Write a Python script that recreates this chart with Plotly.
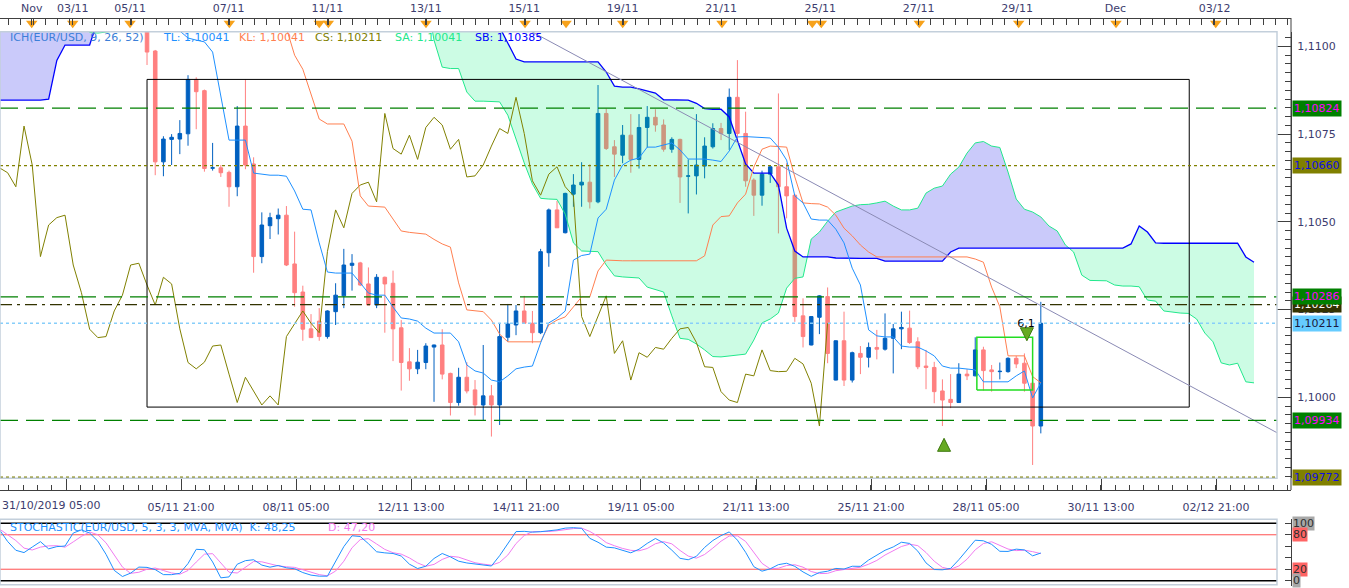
import plotly.graph_objects as go

# ---------------- values (EUR/USD, 4h candles) ----------------
candle_idx = list(range(110))
opens = [
    1.11061, 1.10987, 1.10671, 1.10735, 1.10736, 1.10751, 1.10906, 1.10874, 1.10653, 1.10654,
    1.10641, 1.10600, 1.10773, 1.10665, 1.10401, 1.10489, 1.10509, 1.10519, 1.10380, 1.10300,
    1.10195, 1.10217, 1.10173, 1.10244, 1.10289, 1.10376, 1.10383, 1.10323, 1.10263, 1.10342,
    1.10325, 1.10198, 1.10101, 1.10081, 1.10099, 1.10143, 1.10149, 1.10068, 1.09985, 1.10057,
    1.10021, 1.09978, 1.10004, 1.09978, 1.10171, 1.10206, 1.10246, 1.10211, 1.10184, 1.10412,
    1.10534, 1.10469, 1.10579, 1.10605, 1.10613, 1.10557, 1.10809, 1.10714, 1.10690, 1.10747,
    1.10678, 1.10769, 1.10798, 1.10776, 1.10707, 1.10735, 1.10630, 1.10631, 1.10659, 1.10714,
    1.10766, 1.10752, 1.10855, 1.10752, 1.10619, 1.10576, 1.10636, 1.10657, 1.10600, 1.10576,
    1.10232, 1.10149, 1.10228, 1.10287, 1.10049, 1.10161, 1.10049, 1.10125, 1.10114, 1.10142,
    1.10137, 1.10168, 1.10195, 1.10197, 1.10158, 1.10089, 1.10085, 1.10018, 1.09994, 1.09985,
    1.10066, 1.10061, 1.10135, 1.10078, 1.10073, 1.10073, 1.10111, 1.10097, 1.10040, 1.09918,
]
highs = [
    1.11075, 1.10990, 1.10744, 1.10750, 1.10790, 1.10918, 1.10912, 1.10877, 1.10725, 1.10662,
    1.10646, 1.10830, 1.10906, 1.10684, 1.10527, 1.10526, 1.10538, 1.10545, 1.10472, 1.10318,
    1.10237, 1.10254, 1.10248, 1.10325, 1.10423, 1.10408, 1.10386, 1.10370, 1.10351, 1.10344,
    1.10361, 1.10220, 1.10140, 1.10135, 1.10154, 1.10150, 1.10194, 1.10070, 1.10084, 1.10100,
    1.10049, 1.10149, 1.10035, 1.10211, 1.10266, 1.10263, 1.10289, 1.10246, 1.10423, 1.10538,
    1.10560, 1.10583, 1.10636, 1.10670, 1.10664, 1.10890, 1.10823, 1.10733, 1.10776, 1.10807,
    1.10807, 1.10830, 1.10821, 1.10792, 1.10741, 1.10737, 1.10678, 1.10807, 1.10741, 1.10781,
    1.10782, 1.10880, 1.10961, 1.10814, 1.10624, 1.10646, 1.10662, 1.10866, 1.10667, 1.10578,
    1.10282, 1.10231, 1.10291, 1.10313, 1.10162, 1.10244, 1.10130, 1.10146, 1.10156, 1.10192,
    1.10239, 1.10209, 1.10244, 1.10247, 1.10171, 1.10135, 1.10101, 1.10051, 1.10066, 1.10097,
    1.10080, 1.10171, 1.10144, 1.10092, 1.10099, 1.10114, 1.10118, 1.10125, 1.10059, 1.10272,
]
lows = [
    1.10947, 1.10633, 1.10630, 1.10662, 1.10693, 1.10717, 1.10764, 1.10643, 1.10646, 1.10628,
    1.10543, 1.10573, 1.10650, 1.10355, 1.10382, 1.10451, 1.10464, 1.10374, 1.10258, 1.10161,
    1.10170, 1.10161, 1.10167, 1.10206, 1.10254, 1.10304, 1.10317, 1.10263, 1.10254, 1.10184,
    1.10103, 1.10019, 1.10047, 1.10066, 1.10080, 1.09987, 1.10051, 1.09948, 1.09976, 1.10011,
    1.09948, 1.09935, 1.09888, 1.09921, 1.10158, 1.10177, 1.10209, 1.10154, 1.10180, 1.10372,
    1.10483, 1.10467, 1.10543, 1.10543, 1.10538, 1.10553, 1.10705, 1.10628, 1.10667, 1.10640,
    1.10652, 1.10712, 1.10757, 1.10700, 1.10697, 1.10554, 1.10524, 1.10578, 1.10624, 1.10709,
    1.10733, 1.10705, 1.10728, 1.10600, 1.10517, 1.10546, 1.10611, 1.10467, 1.10510, 1.10215,
    1.10142, 1.10148, 1.10180, 1.10097, 1.10048, 1.10032, 1.10042, 1.10066, 1.10085, 1.10108,
    1.10133, 1.10068, 1.10137, 1.10152, 1.10080, 1.10023, 1.09983, 1.09918, 1.09969, 1.09984,
    1.10049, 1.10060, 1.10019, 1.10016, 1.10051, 1.10070, 1.10083, 1.10016, 1.09807, 1.09897,
]
closes = [
    1.10984, 1.10671, 1.10736, 1.10741, 1.10752, 1.10906, 1.10871, 1.10652, 1.10654, 1.10640,
    1.10600, 1.10773, 1.10662, 1.10401, 1.10491, 1.10512, 1.10519, 1.10377, 1.10298, 1.10194,
    1.10170, 1.10173, 1.10246, 1.10291, 1.10377, 1.10382, 1.10320, 1.10263, 1.10342, 1.10323,
    1.10195, 1.10099, 1.10081, 1.10100, 1.10146, 1.10149, 1.10066, 1.09985, 1.10057, 1.10018,
    1.09978, 1.10004, 1.09978, 1.10173, 1.10209, 1.10246, 1.10211, 1.10184, 1.10415, 1.10534,
    1.10483, 1.10581, 1.10605, 1.10613, 1.10557, 1.10809, 1.10709, 1.10693, 1.10747, 1.10678,
    1.10769, 1.10798, 1.10776, 1.10707, 1.10735, 1.10628, 1.10631, 1.10662, 1.10716, 1.10766,
    1.10752, 1.10855, 1.10752, 1.10617, 1.10576, 1.10636, 1.10657, 1.10600, 1.10574, 1.10230,
    1.10173, 1.10230, 1.10289, 1.10125, 1.10161, 1.10049, 1.10127, 1.10114, 1.10142, 1.10137,
    1.10168, 1.10195, 1.10199, 1.10156, 1.10087, 1.10085, 1.10016, 1.09992, 1.09985, 1.10066,
    1.10061, 1.10135, 1.10076, 1.10073, 1.10074, 1.10111, 1.10095, 1.10040, 1.09918, 1.10211,
]

# Ichimoku (9, 26, 52)
tenkan = [
    1.11075, 1.11061, 1.11052, 1.11046, 1.11044, 1.11024, 1.11018, 1.11013, 1.10984, 1.10861,
    1.10733, 1.10733, 1.10733, 1.10639, 1.10636, 1.10633, 1.10633, 1.10630, 1.10588, 1.10536,
    1.10534, 1.10440, 1.10357, 1.10354, 1.10354, 1.10354, 1.10326, 1.10297, 1.10291, 1.10291,
    1.10257, 1.10226, 1.10223, 1.10217, 1.10197, 1.10183, 1.10183, 1.10183, 1.10158, 1.10092,
    1.10075, 1.10069, 1.10049, 1.10044, 1.10061, 1.10081, 1.10086, 1.10089, 1.10155, 1.10212,
    1.10226, 1.10246, 1.10391, 1.10404, 1.10408, 1.10511, 1.10536, 1.10619, 1.10662, 1.10676,
    1.10682, 1.10713, 1.10713, 1.10720, 1.10725, 1.10705, 1.10679, 1.10679, 1.10679, 1.10676,
    1.10672, 1.10702, 1.10742, 1.10743, 1.10742, 1.10740, 1.10739, 1.10713, 1.10676, 1.10574,
    1.10554, 1.10508, 1.10505, 1.10505, 1.10479, 1.10440, 1.10368, 1.10320, 1.10192, 1.10175,
    1.10172, 1.10172, 1.10146, 1.10143, 1.10143, 1.10132, 1.10118, 1.10089, 1.10083, 1.10083,
    1.10081, 1.10078, 1.10044, 1.10044, 1.10044, 1.10044, 1.10061, 1.10075, 1.09998, 1.10041,
]
kijun = [
    1.11090, 1.11090, 1.11090, 1.11090, 1.11090, 1.11090, 1.11090, 1.11090, 1.11090, 1.11090,
    1.11090, 1.11090, 1.11090, 1.11090, 1.11090, 1.11075, 1.11065, 1.11052, 1.10975, 1.10935,
    1.10861, 1.10793, 1.10779, 1.10779, 1.10779, 1.10730, 1.10574, 1.10545, 1.10543, 1.10542,
    1.10508, 1.10474, 1.10470, 1.10468, 1.10465, 1.10450, 1.10437, 1.10428, 1.10326, 1.10249,
    1.10246, 1.10244, 1.10220, 1.10180, 1.10158, 1.10158, 1.10158, 1.10156, 1.10158, 1.10206,
    1.10220, 1.10229, 1.10257, 1.10286, 1.10286, 1.10360, 1.10391, 1.10389, 1.10389, 1.10389,
    1.10389, 1.10389, 1.10389, 1.10389, 1.10389, 1.10389, 1.10389, 1.10389, 1.10403, 1.10491,
    1.10515, 1.10517, 1.10554, 1.10579, 1.10656, 1.10707, 1.10716, 1.10715, 1.10713, 1.10628,
    1.10554, 1.10552, 1.10551, 1.10542, 1.10519, 1.10482, 1.10460, 1.10434, 1.10414, 1.10400,
    1.10400, 1.10400, 1.10400, 1.10400, 1.10400, 1.10400, 1.10400, 1.10400, 1.10400, 1.10400,
    1.10400, 1.10394, 1.10385, 1.10314, 1.10258, 1.10118, 1.10118, 1.10118, 1.10059, 1.10041,
]
span_idx = list(range(-18, 136))
senkou_a = [
    1.11150, 1.11150, 1.11150, 1.11150, 1.11150, 1.11150, 1.11150, 1.11150, 1.11150, 1.11150,
    1.11150, 1.11040, 1.11038, 1.11041, 1.11044, 1.11075, 1.11150, 1.11150, 1.11150, 1.11150,
    1.11150, 1.11150, 1.11150, 1.11150, 1.11150, 1.11150, 1.11150, 1.11150, 1.11150, 1.11150,
    1.11150, 1.11150, 1.11150, 1.11150, 1.11150, 1.11150, 1.11150, 1.11150, 1.11150, 1.11150,
    1.11150, 1.11150, 1.11150, 1.11150, 1.11150, 1.11150, 1.11150, 1.11150, 1.11150, 1.11150,
    1.11150, 1.11150, 1.11150, 1.11018, 1.10941, 1.10937, 1.10937, 1.10870, 1.10844, 1.10844,
    1.10843, 1.10842, 1.10804, 1.10736, 1.10668, 1.10608, 1.10567, 1.10565, 1.10564, 1.10522,
    1.10440, 1.10417, 1.10415, 1.10415, 1.10377, 1.10346, 1.10343, 1.10341, 1.10340, 1.10314,
    1.10308, 1.10300, 1.10232, 1.10168, 1.10165, 1.10152, 1.10135, 1.10116, 1.10115, 1.10118,
    1.10121, 1.10123, 1.10163, 1.10212, 1.10223, 1.10240, 1.10311, 1.10339, 1.10343, 1.10451,
    1.10471, 1.10502, 1.10528, 1.10536, 1.10545, 1.10549, 1.10550, 1.10554, 1.10559, 1.10545,
    1.10534, 1.10534, 1.10539, 1.10582, 1.10596, 1.10602, 1.10636, 1.10656, 1.10696, 1.10725,
    1.10729, 1.10716, 1.10712, 1.10642, 1.10565, 1.10536, 1.10528, 1.10514, 1.10488, 1.10474,
    1.10434, 1.10414, 1.10348, 1.10333, 1.10333, 1.10332, 1.10320, 1.10317, 1.10317, 1.10315,
    1.10277, 1.10274, 1.10246, 1.10242, 1.10240, 1.10239, 1.10223, 1.10183, 1.10158, 1.10098,
    1.10092, 1.10097, 1.10044, 1.10041,
]
senkou_b = [
    1.10847, 1.10847, 1.10847, 1.10847, 1.10847, 1.10847, 1.10850, 1.10960, 1.11004, 1.11004,
    1.11004, 1.11004, 1.11075, 1.11100, 1.11100, 1.11100, 1.11100, 1.11100, 1.11100, 1.11100,
    1.11100, 1.11100, 1.11100, 1.11100, 1.11100, 1.11100, 1.11100, 1.11100, 1.11100, 1.11100,
    1.11100, 1.11100, 1.11100, 1.11100, 1.11100, 1.11100, 1.11100, 1.11100, 1.11100, 1.11100,
    1.11100, 1.11100, 1.11100, 1.11100, 1.11100, 1.11100, 1.11100, 1.11100, 1.11100, 1.11100,
    1.11100, 1.11100, 1.11100, 1.11100, 1.11100, 1.11100, 1.11100, 1.11100, 1.11100, 1.11100,
    1.11100, 1.11055, 1.11009, 1.10964, 1.10956, 1.10956, 1.10956, 1.10956, 1.10956, 1.10956,
    1.10956, 1.10956, 1.10956, 1.10956, 1.10927, 1.10887, 1.10884, 1.10884, 1.10879, 1.10873,
    1.10867, 1.10848, 1.10847, 1.10847, 1.10847, 1.10838, 1.10823, 1.10821, 1.10821, 1.10799,
    1.10730, 1.10665, 1.10639, 1.10639, 1.10639, 1.10605, 1.10482, 1.10417, 1.10400, 1.10400,
    1.10400, 1.10400, 1.10397, 1.10396, 1.10396, 1.10396, 1.10396, 1.10396, 1.10388, 1.10388,
    1.10388, 1.10388, 1.10388, 1.10388, 1.10388, 1.10388, 1.10414, 1.10425, 1.10425, 1.10425,
    1.10425, 1.10425, 1.10425, 1.10425, 1.10425, 1.10425, 1.10425, 1.10425, 1.10425, 1.10425,
    1.10425, 1.10425, 1.10425, 1.10425, 1.10425, 1.10425, 1.10425, 1.10425, 1.10437, 1.10488,
    1.10471, 1.10440, 1.10439, 1.10439, 1.10439, 1.10439, 1.10439, 1.10439, 1.10439, 1.10439,
    1.10439, 1.10439, 1.10400, 1.10385,
]
chikou_shift = 26

# Stochastic (5, 3, 3)
stoch_idx = list(range(-18, 110))
stoch_k = [
    88.8, 68.3, 53.0, 49.0, 58.6, 68.0, 55.5, 59.4, 60.4, 83.0,
    88.5, 83.0, 68.9, 46.0, 18.0, 7.3, 13.2, 23.7,
    23.2, 19.3, 10.6, 10.5, 12.9, 29.9, 54.7, 53.9, 32.7, 5.0,
    6.6, 28.7, 34.9, 36.5, 27.2, 23.6, 26.5, 22.4, 20.8, 14.2,
    9.7, 7.9, 7.9, 34.5, 59.4, 78.3, 77.0, 64.5, 50.4, 48.5,
    47.4, 43.0, 28.8, 21.2, 25.2, 38.7, 47.4, 41.5, 34.0, 30.9,
    29.1, 26.6, 25.6, 43.6, 65.0, 85.5, 86.0, 84.6, 85.4, 87.0,
    88.5, 91.6, 92.4, 91.2, 73.8, 67.0, 58.5, 57.2, 53.0, 48.6,
    54.8, 65.0, 73.5, 65.8, 53.2, 39.0, 36.5, 42.5, 58.0, 70.0,
    78.5, 85.0, 70.7, 49.5, 24.4, 16.6, 20.7, 28.0, 30.4, 25.0,
    15.3, 7.6, 14.4, 16.5, 21.4, 20.3, 25.2, 25.0, 36.0, 45.0,
    53.0, 58.8, 67.0, 64.9, 51.5, 31.0, 19.5, 19.0, 21.4, 36.5,
    54.5, 70.5, 69.5, 63.3, 51.2, 51.0, 55.0, 53.6, 43.3, 48.25,
]
stoch_d = [
    90.0, 80.0, 70.0, 56.8, 53.5, 58.5, 60.7, 61.0, 58.4, 67.6,
    77.3, 84.8, 80.1, 66.0, 44.3, 23.8, 12.8, 14.7,
    20.0, 22.1, 17.7, 13.5, 11.3, 17.8, 32.5, 46.2, 47.1, 30.5,
    14.8, 13.4, 23.4, 33.4, 32.9, 29.1, 25.8, 24.2, 23.2, 19.1,
    14.9, 10.6, 8.5, 16.8, 33.9, 57.4, 71.6, 73.3, 64.0, 54.5,
    48.8, 46.3, 39.7, 31.0, 25.1, 28.4, 37.1, 42.5, 41.0, 35.5,
    31.3, 28.9, 27.1, 31.9, 44.7, 64.7, 78.8, 85.4, 85.3, 85.7,
    87.0, 89.0, 90.8, 91.7, 85.8, 77.3, 66.4, 60.9, 56.2, 52.9,
    52.1, 56.1, 64.4, 68.1, 64.2, 52.7, 42.9, 39.3, 45.7, 56.8,
    68.8, 77.8, 78.1, 68.4, 48.2, 30.2, 20.6, 21.8, 26.4, 27.8,
    23.6, 16.0, 12.4, 12.8, 17.4, 19.4, 22.3, 23.5, 28.7, 35.3,
    44.7, 52.3, 59.6, 63.6, 61.1, 49.1, 34.0, 23.2, 20.0, 25.6,
    37.5, 53.8, 64.8, 67.8, 61.3, 55.2, 52.4, 53.2, 50.6, 47.2,
]
stoch_levels = [0, 20, 80, 100]

# drawn objects
levels = [1.10824, 1.10660, 1.10286, 1.10264, 1.10211, 1.09934, 1.09772]
level_text = ["1,10824", "1,10660", "1,10286", "1,10264", "1,10211", "1,09934", "1,09772"]
box_x = [0, 127.1]
box_y = [1.09972, 1.10906]
small_box_x = [101.2, 108.0]
small_box_y = [1.10021, 1.10171]
trend_x = [40.0, 137.8]
trend_y = [1.11129, 1.09899]
arrow_up = (97.2, 1.09883)
arrow_down = (107.3, 1.10161)
arrow_label = (107.2, 1.10208, "6,1")

# axes
top_tick_pos = [-14.06, -9.06, -2.07, 9.96, 22.0, 34.0, 46.0, 58.0, 70.0, 82.1, 94.1, 106.1, 118.1, 130.2]
top_tick_text = ["Nov", "03/11", "05/11", "07/11", "11/11", "13/11", "15/11", "19/11",
                 "21/11", "25/11", "27/11", "29/11", "Dec", "03/12"]
event_pos = [-14.06, -9.06, -2.07, 10.04, 21.01, 22.11, 34.02, 46.1, 51.1, 58.01,
             70.12, 81.13, 82.23, 94.18, 106.3, 118.17, 130.33]
bottom_tick_pos = [-9.88, 4.15, 18.17, 32.2, 46.22, 60.24, 74.27, 88.29, 102.32, 116.34, 130.37]
bottom_tick_text = ["", "05/11 21:00", "08/11 05:00", "12/11 13:00", "14/11 21:00", "19/11 05:00",
                    "21/11 13:00", "25/11 21:00", "28/11 05:00", "30/11 13:00", "02/12 21:00"]

# ---------------- styling ----------------
W, H = 1349, 588
M_T, M_B, M_R = 18, 2, 58
PLOT_W = W - M_R
PLOT_H = H - M_T - M_B
FONT = "DejaVu Sans"
AX_TXT = "#3C3C6E"
AX_LINE = "#404040"
FRAME = "#C3CFDB"
UP, DOWN = "#0060C0", "#FF8080"


def py(p):  # pixel row -> paper y
    return 1 - (p - M_T) / PLOT_H


def px(p):  # pixel column -> paper x
    return p / PLOT_W


X_RANGE = [-17.93, 139.51]
Y_RANGE = [1.09769, 1.11042]
MAIN_DOM = [py(478.3), py(31.7)]
STOCH_DOM = [0, py(519.3)]
FRAME_R = px(1277)

fig = go.Figure()

fig.add_trace(go.Candlestick(
    x=candle_idx, open=opens, high=highs, low=lows, close=closes,
    increasing=dict(line=dict(color=UP, width=1), fillcolor=UP),
    decreasing=dict(line=dict(color=DOWN, width=1), fillcolor=DOWN),
    whiskerwidth=0, hoverinfo="skip"))


# cloud between the spans, split where they cross, drawn over the candles
def cloud_parts(xs, a, b):
    parts = []
    cx, ca, cb = [xs[0]], [a[0]], [b[0]]
    sign = a[0] >= b[0]
    for k in range(1, len(xs)):
        s = a[k] >= b[k]
        if s != sign:
            d0, d1 = a[k - 1] - b[k - 1], a[k] - b[k]
            t = d0 / (d0 - d1)
            xc = xs[k - 1] + t * (xs[k] - xs[k - 1])
            yc = a[k - 1] + t * (a[k] - a[k - 1])
            cx.append(xc); ca.append(yc); cb.append(yc)
            parts.append((cx, ca, cb, sign))
            cx, ca, cb = [xc], [yc], [yc]
            sign = s
        cx.append(xs[k]); ca.append(a[k]); cb.append(b[k])
    parts.append((cx, ca, cb, sign))
    return parts


for cx, ca, cb, sa_above in cloud_parts(span_idx, senkou_a, senkou_b):
    fig.add_trace(go.Scatter(
        x=cx + cx[::-1], y=ca + cb[::-1], mode="lines", fill="toself",
        fillcolor="rgba(5,5,232,0.21)" if sa_above else "rgba(0,240,120,0.2)",
        line=dict(width=0), hoverinfo="skip"))

fig.add_trace(go.Scatter(x=span_idx, y=senkou_a, mode="lines",
                         line=dict(color="#22E88C", width=1), hoverinfo="skip"))
fig.add_trace(go.Scatter(x=span_idx, y=senkou_b, mode="lines",
                         line=dict(color="#0000FF", width=1.3), hoverinfo="skip"))
fig.add_trace(go.Scatter(x=[i - chikou_shift for i in candle_idx], y=closes, mode="lines",
                         line=dict(color="#808000", width=1), hoverinfo="skip"))
fig.add_trace(go.Scatter(x=candle_idx, y=kijun, mode="lines",
                         line=dict(color="#FF7F50", width=1), hoverinfo="skip"))
fig.add_trace(go.Scatter(x=candle_idx, y=tenkan, mode="lines",
                         line=dict(color="#1E90FF", width=1), hoverinfo="skip"))

# drawings: box, trend line, small box, arrows
fig.add_trace(go.Scatter(
    x=[box_x[0], box_x[1], box_x[1], box_x[0], box_x[0]],
    y=[box_y[0], box_y[0], box_y[1], box_y[1], box_y[0]],
    mode="lines", line=dict(color="black", width=1), hoverinfo="skip"))
fig.add_trace(go.Scatter(x=trend_x, y=trend_y, mode="lines",
                         line=dict(color="#8A8AB4", width=1), hoverinfo="skip"))
fig.add_trace(go.Scatter(
    x=[small_box_x[0], small_box_x[1], small_box_x[1], small_box_x[0], small_box_x[0]],
    y=[small_box_y[0], small_box_y[0], small_box_y[1], small_box_y[1], small_box_y[0]],
    mode="lines", line=dict(color="#22DD22", width=1.5), hoverinfo="skip"))
fig.add_trace(go.Scatter(
    x=[arrow_up[0], arrow_down[0]], y=[arrow_up[1], arrow_down[1]], mode="markers",
    marker=dict(symbol=["arrow-up", "arrow-down"], size=13, color="#66AA22",
                line=dict(color="#3F7A10", width=1)), hoverinfo="skip"))
fig.add_trace(go.Scatter(
    x=[arrow_label[0]], y=[arrow_label[1]], mode="text", text=[arrow_label[2]],
    textfont=dict(family=FONT, size=11, color="black"), hoverinfo="skip"))

# stochastic
fig.add_trace(go.Scatter(x=stoch_idx, y=stoch_d, mode="lines", xaxis="x3", yaxis="y2",
                         line=dict(color="#F07CF0", width=1), hoverinfo="skip"))
fig.add_trace(go.Scatter(x=stoch_idx, y=stoch_k, mode="lines", xaxis="x3", yaxis="y2",
                         line=dict(color="#1E90FF", width=1), hoverinfo="skip"))

# event markers on the top time scale
fig.add_trace(go.Scatter(
    x=event_pos, y=[0.62] * len(event_pos), mode="markers", xaxis="x2", yaxis="y3",
    marker=dict(symbol="triangle-down", size=10, color="#F7A21B", line=dict(width=0)),
    cliponaxis=False, hoverinfo="skip"))

for tr in fig.data:
    tr.showlegend = False

shapes = []
# horizontal price levels
level_styles = [
    ("#008000", "18px,8px"), ("#808000", "3px,3px"), ("#008000", "18px,8px"),
    ("#333300", "12px,5px,3px,5px"), ("#87CEFA", "3px,3px"), ("#008000", "18px,8px"),
    ("#808000", "3px,3px"),
]
for lv, (col, dash) in zip(levels, level_styles):
    shapes.append(dict(type="line", xref="paper", yref="y", x0=0, x1=FRAME_R, y0=lv, y1=lv,
                       line=dict(color=col, width=1.3, dash=dash)))
# stochastic guide lines
for lv in stoch_levels:
    edge = lv in (0, 100)
    shapes.append(dict(type="line", xref="paper", yref="y2", x0=0, x1=FRAME_R, y0=lv, y1=lv,
                       line=dict(color="black" if edge else "#FF5050", width=1.6 if edge else 1),
                       layer="below"))
# panel frames
shapes.append(dict(type="rect", xref="paper", yref="paper", x0=0, x1=FRAME_R,
                   y0=MAIN_DOM[0], y1=MAIN_DOM[1], line=dict(color=FRAME, width=1.5)))
shapes.append(dict(type="rect", xref="paper", yref="paper", x0=0, x1=FRAME_R,
                   y0=STOCH_DOM[0] + 0.002, y1=STOCH_DOM[1], line=dict(color=FRAME, width=1.5)))
# price scale spine continues down to the time scale
shapes.append(dict(type="line", xref="paper", yref="paper", x0=1, x1=1, y0=py(490), y1=1,
                   line=dict(color=AX_LINE, width=1)))

annotations = []
# colored price boxes on the right scale (same order as levels)
box_styles = [
    ("#008000", "#FF00FF"), ("#808000", "#1010E0"), ("#008000", "#FF00FF"),
    ("#333300", "#FFFFFF"), ("#66CCFF", "#1A1A40"), ("#008000", "#FF00FF"),
    ("#808000", "#1010E0"),
]
for k in [0, 1, 3, 2, 4, 5, 6]:  # 1,10286 is drawn over 1,10264
    bg, fg = box_styles[k]
    annotations.append(dict(
        xref="paper", yref="y", x=1, y=levels[k], xanchor="left", yanchor="middle",
        xshift=1, text=level_text[k], showarrow=False, bgcolor=bg, borderpad=1,
        font=dict(family=FONT, size=11, color=fg)))
# stochastic scale labels
for lv, bg in [(100, "#A8A8A8"), (80, "#FF6464"), (20, "#FF6464"), (0, "#A8A8A8")]:
    annotations.append(dict(
        xref="paper", yref="y2", x=1, y=lv, xanchor="left", yanchor="middle", xshift=1,
        text=str(lv), showarrow=False, bgcolor=bg, borderpad=0,
        font=dict(family=FONT, size=11, color="#303030")))
# indicator captions
captions = [
    (8, 38, "ICH(EUR/USD, 9, 26, 52)", "#3C7FD8"),
    (161, 38, "TL: 1,10041", "#1E90FF"),
    (237, 38, "KL: 1,10041", "#FF7F50"),
    (313, 38, "CS: 1,10211", "#808000"),
    (393, 38, "SA: 1,10041", "#22E88C"),
    (473, 38, "SB: 1,10385", "#0000FF"),
    (8, 527, "STOCHASTIC(EUR/USD, 5, 3, 3, MVA, MVA)  K: 48,25", "#1E90FF"),
    (326, 527, "D: 47,20", "#F07CF0"),
    (0, 505, "31/10/2019 05:00", AX_TXT),
]
for x0, y0, txt, col in captions:
    annotations.append(dict(
        xref="paper", yref="paper", x=px(x0), y=py(y0), xanchor="left", yanchor="middle",
        text=txt, showarrow=False, font=dict(family=FONT, size=11, color=col)))

fig.update_layout(
    width=W, height=H, margin=dict(l=0, r=M_R, t=M_T, b=M_B),
    paper_bgcolor="white", plot_bgcolor="white", separators=", ",
    showlegend=False, boxgap=0.38, hovermode=False,
    font=dict(family=FONT, size=11, color=AX_TXT),
    xaxis=dict(
        domain=[0, 1], range=X_RANGE, anchor="free", position=py(490),
        showline=True, linecolor=AX_LINE, ticks="inside", ticklen=12, tickcolor=AX_LINE,
        tickvals=bottom_tick_pos, ticktext=bottom_tick_text, ticklabelstandoff=7,
        minor=dict(ticks="inside", ticklen=5, tick0=60.24, dtick=1.7525, tickcolor=AX_LINE),
        showgrid=False, zeroline=False, rangeslider=dict(visible=False),
        tickfont=dict(family=FONT, size=11, color=AX_TXT)),
    xaxis2=dict(
        overlaying="x", side="top", anchor="free", position=1, range=X_RANGE,
        showline=True, linecolor=AX_LINE, ticks="inside", ticklen=6, tickcolor=AX_LINE,
        tickvals=top_tick_pos, ticktext=top_tick_text, ticklabelstandoff=2,
        minor=dict(ticks="inside", ticklen=6, tick0=94.1, dtick=1.5, tickcolor=AX_LINE),
        showgrid=False, zeroline=False,
        tickfont=dict(family=FONT, size=11, color=AX_TXT)),
    xaxis3=dict(domain=[0, 1], range=X_RANGE, anchor="y2", visible=False),
    yaxis=dict(
        domain=MAIN_DOM, range=Y_RANGE, side="right", anchor="x",
        showline=True, linecolor=AX_LINE, ticks="inside", ticklen=14, tickcolor=AX_LINE,
        tick0=1.1, dtick=0.0025, tickformat=".4f", ticklabelstandoff=3,
        minor=dict(ticks="inside", ticklen=6, tick0=1.1, dtick=0.00025, tickcolor=AX_LINE),
        showgrid=False, zeroline=False,
        tickfont=dict(family=FONT, size=11, color=AX_TXT)),
    yaxis2=dict(
        domain=STOCH_DOM, range=[-9.23, 106.97], side="right", anchor="x3",
        showline=True, linecolor=AX_LINE, ticks="inside", ticklen=6, tickcolor=AX_LINE,
        tickvals=[0, 20, 40, 60, 80, 100], showticklabels=False,
        showgrid=False, zeroline=False),
    yaxis3=dict(domain=[MAIN_DOM[1], 1], range=[0, 1], anchor="x2", visible=False),
    shapes=shapes, annotations=annotations,
)

# the page's default body margin would shift the fixed-size figure by 8px
fig.write_html("out.html", config={"displayModeBar": False},
               post_script="document.body.style.margin='0px';")
